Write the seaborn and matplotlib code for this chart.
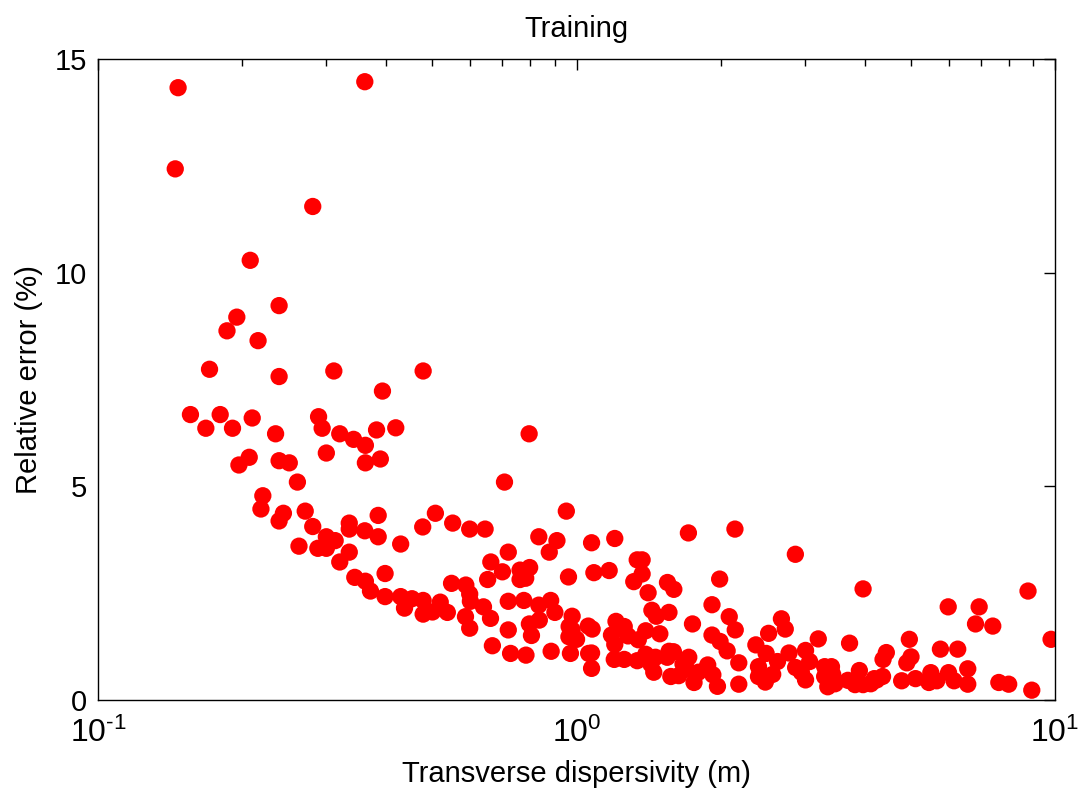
import math
import matplotlib
matplotlib.use("Agg")
import matplotlib.pyplot as plt
import matplotlib.ticker as mticker
import seaborn as sns
import pandas as pd

# transverse dispersivity (m) and relative error (%)
dispersivity = [
    0.147, 0.361, 0.145, 0.281, 0.208, 0.239, 0.195, 0.186, 0.216, 0.171,
    0.239, 0.311, 0.478, 0.393, 0.156, 0.168, 0.180, 0.191, 0.210, 0.235,
    0.289, 0.294, 0.320, 0.342, 0.362, 0.382, 0.419, 0.300, 0.362, 0.389,
    0.197, 0.207, 0.239, 0.251, 0.261, 0.221, 0.219, 0.244, 0.239, 0.271,
    0.281, 0.263, 0.288, 0.300, 0.300, 0.313, 0.335, 0.335, 0.361, 0.385,
    0.385, 0.429, 0.335, 0.320, 0.477, 0.507, 0.551, 0.344, 0.362, 0.371,
    0.398, 0.398, 0.429, 0.437, 0.453, 0.478, 0.478, 0.500, 0.519, 0.548,
    0.537, 0.598, 0.644, 0.796, 0.707, 0.952, 0.834, 0.910, 0.877, 1.075,
    1.202, 1.713, 2.143, 0.720, 0.662, 0.700, 0.798, 0.652, 0.762, 0.783,
    0.962, 1.087, 1.170, 1.339, 1.371, 1.371, 1.317, 1.411, 1.549, 1.597,
    1.991, 1.919, 2.085, 2.146, 2.370, 1.437, 1.468, 1.560, 1.747, 1.919,
    1.995, 2.064, 2.183, 2.183, 1.970, 1.880, 1.927, 1.760, 1.797, 1.716,
    1.669, 1.594, 1.561, 1.547, 1.574, 1.635, 1.697, 1.450, 1.430, 1.395,
    1.462, 1.339, 1.258, 1.199, 1.075, 1.075, 0.971, 0.885, 0.784, 0.728,
    0.667, 0.598, 0.598, 0.600, 0.586, 0.587, 0.639, 0.661, 0.720, 0.720,
    0.776, 0.834, 0.883, 0.901, 0.836, 0.797, 0.805, 0.979, 0.965, 0.979,
    0.964, 1.000, 1.058, 1.078, 1.209, 1.183, 1.202, 1.258, 1.281, 1.346,
    1.395, 1.493, 2.400, 2.400, 2.866, 3.970, 8.780, 9.810, 8.940, 5.980,
    6.940, 6.820, 7.410, 4.960, 5.760, 6.260, 6.570, 6.570, 7.630, 8.000,
    5.990, 6.150, 5.500, 5.450, 5.660, 4.780, 5.110, 5.000, 4.900, 4.440,
    4.370, 4.360, 4.190, 4.120, 3.900, 3.820, 3.970, 3.690, 3.720, 3.200,
    3.010, 3.070, 3.010, 2.870, 2.950, 2.780, 2.680, 2.730, 2.520, 2.490,
    2.630, 2.570, 2.480, 3.300, 3.410, 3.300, 3.350, 3.470, 3.430, 4.240,
    0.762, 1.060,
]
rel_error = [
    14.33, 14.47, 12.43, 11.55, 10.29, 9.23, 8.96, 8.64, 8.41, 7.74,
    7.57, 7.70, 7.70, 7.23, 6.68, 6.36, 6.68, 6.36, 6.60, 6.23,
    6.63, 6.36, 6.23, 6.10, 5.96, 6.32, 6.37, 5.78, 5.55, 5.64,
    5.50, 5.68, 5.60, 5.55, 5.10, 4.78, 4.47, 4.37, 4.19, 4.42,
    4.06, 3.60, 3.55, 3.82, 3.55, 3.73, 4.14, 4.00, 3.96, 4.32,
    3.82, 3.65, 3.46, 3.23, 4.05, 4.37, 4.14, 2.87, 2.78, 2.55,
    2.96, 2.42, 2.42, 2.15, 2.37, 2.33, 2.01, 2.06, 2.29, 2.73,
    2.05, 4.00, 4.00, 6.23, 5.10, 4.42, 3.82, 3.73, 3.46, 3.68,
    3.78, 3.91, 4.00, 3.46, 3.23, 3.00, 3.10, 2.82, 2.82, 2.85,
    2.88, 2.98, 3.03, 3.28, 3.28, 2.95, 2.77, 2.51, 2.75, 2.59,
    2.83, 2.23, 1.95, 1.64, 1.29, 2.10, 1.96, 2.05, 1.78, 1.52,
    1.37, 1.15, 0.87, 0.37, 0.32, 0.82, 0.59, 0.41, 0.65, 1.00,
    0.84, 1.13, 1.14, 1.00, 0.55, 0.57, 0.73, 0.65, 0.84, 1.07,
    1.00, 0.92, 0.95, 0.95, 0.74, 1.10, 1.09, 1.14, 1.05, 1.09,
    1.27, 1.68, 2.48, 2.31, 1.95, 2.69, 2.18, 1.91, 2.31, 1.64,
    2.33, 2.22, 2.33, 2.05, 1.87, 1.78, 1.51, 1.96, 1.72, 1.64,
    1.48, 1.42, 1.73, 1.66, 1.84, 1.52, 1.30, 1.72, 1.50, 1.41,
    1.62, 1.55, 0.55, 0.78, 3.41, 2.60, 2.55, 1.42, 0.23, 2.18,
    2.18, 1.78, 1.73, 1.42, 1.19, 1.19, 0.73, 0.37, 0.41, 0.37,
    0.64, 0.45, 0.64, 0.41, 0.45, 0.45, 0.50, 1.01, 0.87, 1.11,
    0.95, 0.55, 0.50, 0.38, 0.69, 0.36, 0.36, 0.46, 1.33, 1.43,
    1.16, 0.90, 0.47, 0.76, 0.65, 1.10, 1.90, 1.66, 1.56, 1.09,
    0.90, 0.60, 0.42, 0.78, 0.78, 0.55, 0.31, 0.38, 0.60, 0.47,
    3.04, 1.09,
]

df = pd.DataFrame({"dispersivity": dispersivity, "error": rel_error})

sns.set_style("white")
plt.rcParams["font.family"] = ["Liberation Sans", "DejaVu Sans"]
plt.rcParams["mathtext.fontset"] = "custom"
plt.rcParams["mathtext.rm"] = "Liberation Sans"
plt.rcParams["mathtext.it"] = "Liberation Sans"
plt.rcParams["text.color"] = "black"
plt.rcParams["axes.labelcolor"] = "black"

fig = plt.figure(figsize=(10.82, 7.96), dpi=100)
ax = fig.add_axes([0.0906, 0.1206, 0.8845, 0.8052])

sns.scatterplot(data=df, x="dispersivity", y="error", color="#ff0000",
                s=155, edgecolor="none", linewidth=0, legend=False, ax=ax)

ax.set_xscale("log")
ax.set_xlim(0.1, 10)
ax.set_ylim(0, 15)
ax.set_yticks([0, 5, 10, 15])


# MATLAB-like 10^-1 labels with a short hyphen in the exponent
def dec_label(v, pos):
    e = int(round(math.log10(v)))
    exp = ("\u2010" + str(-e)) if e < 0 else str(e)
    return "$\\mathdefault{10^{" + exp + "}}$"


ax.xaxis.set_major_formatter(mticker.FuncFormatter(dec_label))

for sp in ax.spines.values():
    sp.set_color("black")
    sp.set_linewidth(1.0)

ax.tick_params(which="both", direction="in", top=True, right=True,
               colors="black", labelcolor="black", labelsize=21, width=1)
ax.tick_params(which="major", length=8)
ax.tick_params(axis="y", which="major", pad=8)
ax.tick_params(axis="x", which="major", pad=13, labelsize=23)
ax.tick_params(which="minor", length=5)

ax.set_title("Training", fontsize=21, pad=16, color="black")
ax.set_xlabel("Transverse dispersivity (m)", fontsize=21, labelpad=8)
ax.set_ylabel("Relative error (%)", fontsize=21, labelpad=8)

plt.savefig("out.png", dpi=100)
